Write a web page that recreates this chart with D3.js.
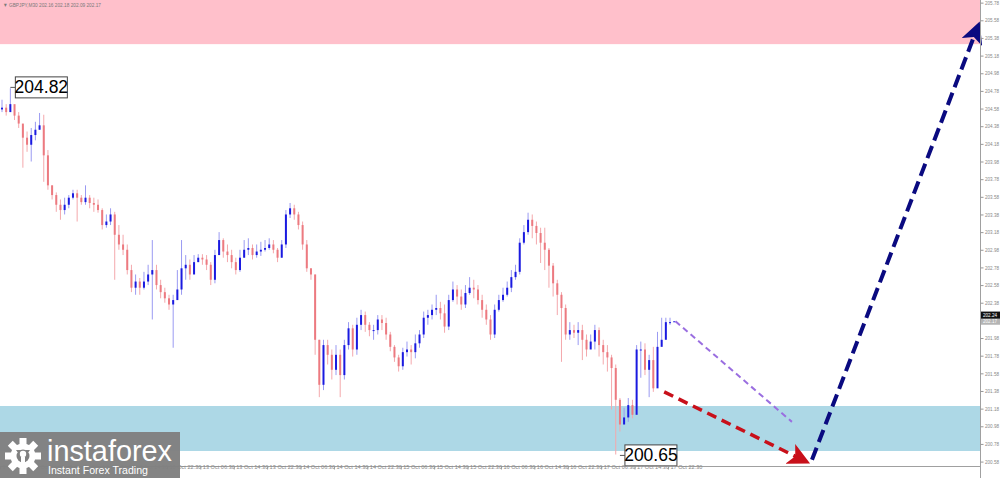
<!DOCTYPE html>
<html><head><meta charset="utf-8">
<script src="https://cdn.jsdelivr.net/npm/d3@7"></script>
<style>
html,body{margin:0;padding:0;background:#fff;overflow:hidden}
svg{display:block}
text{font-family:"Liberation Sans","DejaVu Sans",sans-serif}
</style></head>
<body>
<svg id="c" width="1000" height="478"></svg>
<script>
// ---- data (hourly candles, GBPJPY) ----
const symbolTitle = "GBPJPY,M30  202.16 202.18 202.09 202.17";
const firstOpen = 204.57;
const closes = [204.59,204.54,204.63,204.50,204.41,204.25,204.17,204.28,204.34,204.39,204.05,203.71,203.60,203.49,203.43,203.49,203.57,203.62,203.57,203.52,203.57,203.51,203.49,203.43,203.26,203.30,203.38,203.15,203.04,202.98,202.75,202.55,202.62,202.55,202.62,202.70,202.75,202.58,202.50,202.43,202.36,202.41,202.53,202.77,202.81,202.70,202.84,202.89,202.87,202.81,202.64,202.92,203.09,202.96,202.92,202.84,202.75,202.89,202.98,203.00,202.92,202.96,202.98,203.00,203.04,202.98,202.89,203.04,203.38,203.45,203.38,203.26,203.04,202.77,202.70,201.96,201.45,201.90,201.79,201.62,201.79,201.56,201.90,202.09,201.85,202.13,202.24,202.13,202.07,202.07,202.19,202.15,202.02,201.88,201.76,201.66,201.82,201.85,201.82,201.92,202.02,202.21,202.24,202.30,202.32,202.26,202.11,202.41,202.53,202.45,202.36,202.49,202.55,202.53,202.41,202.30,202.19,202.02,202.30,202.41,202.47,202.55,202.67,202.73,203.06,203.18,203.32,203.25,203.17,203.06,202.98,202.80,202.60,202.47,202.32,202.02,202.07,202.04,202.07,201.96,201.85,201.94,202.07,201.90,201.82,201.76,201.64,201.28,201.00,201.08,201.22,201.11,201.85,201.85,201.62,201.73,201.41,201.88,201.96,202.16,202.16,202.17];
const highs  = [204.68,204.63,204.81,204.59,204.54,204.39,204.32,204.36,204.43,204.53,204.51,204.11,203.71,203.63,203.55,203.57,203.60,203.66,203.66,203.60,203.71,203.60,203.57,203.55,203.45,203.38,203.45,203.41,203.26,203.15,203.04,202.81,202.70,202.66,202.73,202.81,203.09,202.81,202.64,202.55,202.47,202.47,202.75,203.09,202.92,202.87,202.92,202.93,202.93,202.92,202.84,202.98,203.18,203.11,203.04,202.98,202.89,202.98,203.09,203.11,203.04,203.04,203.07,203.09,203.11,203.09,203.00,203.09,203.43,203.51,203.49,203.41,203.30,203.09,202.77,202.70,201.96,201.96,201.96,201.85,201.90,201.85,201.96,202.16,202.13,202.21,202.30,202.28,202.16,202.13,202.24,202.24,202.21,202.05,201.90,201.79,201.87,201.94,201.90,202.02,202.07,202.28,202.30,202.36,202.47,202.39,202.36,202.47,202.62,202.58,202.53,202.58,202.67,202.64,202.58,202.47,202.36,202.24,202.36,202.47,202.55,202.62,202.75,202.81,203.11,203.26,203.40,203.38,203.30,203.23,203.23,203.00,202.83,202.64,202.50,202.36,202.16,202.13,202.16,202.13,202.02,202.02,202.13,202.10,201.96,201.90,201.79,201.68,201.30,201.19,201.30,201.28,201.90,201.94,201.92,201.79,201.88,202.05,202.21,202.21,202.21];
const lows   = [204.54,204.50,204.54,204.45,204.36,203.91,204.09,203.98,204.22,204.34,203.75,203.66,203.55,203.41,203.32,203.38,203.45,203.55,203.30,203.49,203.49,203.45,203.41,203.40,203.21,203.23,203.26,202.64,202.98,202.92,202.70,202.50,202.47,202.47,202.53,202.58,202.19,202.53,202.43,202.38,202.30,201.87,202.47,202.47,202.64,202.64,202.73,202.84,202.81,202.75,202.58,202.60,202.92,202.89,202.84,202.77,202.70,202.73,202.89,202.92,202.87,202.89,202.91,202.96,202.98,202.94,202.84,202.89,203.00,203.34,203.32,203.21,202.98,202.73,202.64,201.79,201.31,201.39,201.68,201.51,201.56,201.31,201.51,201.85,201.77,201.79,202.07,202.05,202.00,201.96,202.02,202.07,201.96,201.83,201.71,201.60,201.62,201.77,201.68,201.75,201.87,201.98,202.13,202.19,202.24,202.19,202.04,202.07,202.39,202.36,202.30,202.32,202.47,202.43,202.36,202.21,202.13,201.96,201.98,202.28,202.39,202.45,202.50,202.64,202.70,203.04,203.15,203.11,203.04,202.83,202.75,202.55,202.45,202.24,201.71,201.96,201.96,201.98,201.90,201.73,201.77,201.90,201.85,201.77,201.68,201.60,201.17,200.66,200.92,201.05,201.03,201.07,201.71,201.53,201.56,201.31,201.37,201.85,201.90,202.12,202.13];
const priceTicks = [205.78,205.58,205.38,205.18,204.98,204.78,204.58,204.38,204.18,203.98,203.78,203.58,203.38,203.18,202.98,202.78,202.58,202.38,202.18,201.98,201.78,201.58,201.38,201.18,200.98,200.78,200.58];
const timeLabels = ["9 Oct 2025","9 Oct 14:30","9 Oct 22:30","10 Oct 06:30","10 Oct 14:30","10 Oct 22:30","13 Oct 06:30","13 Oct 14:30","13 Oct 22:30","14 Oct 06:30","14 Oct 14:30","14 Oct 22:30","15 Oct 06:30","15 Oct 14:30","15 Oct 22:30","16 Oct 06:30","16 Oct 14:30","16 Oct 22:30","17 Oct 06:30","17 Oct 14:30","17 Oct 22:30"];
const sellZone = [205.31, 205.81];
const buyZone = [200.70, 201.21];
const highMark = {i: 2, price: 204.82, label: "204.82"};
const lowMark = {i: 148, price: 200.65, label: "200.65"};
const askPrice = 202.24, bidPrice = 202.17;
// forecast arrows: [barIndex, price]
const arrowPurple = [[161.3, 202.17], [189.2, 201.03]];
const arrowRed = [[158.6, 201.37], [192.6, 200.58]];
const arrowNavy = [[194.0, 200.60], [233.8, 205.52]];

// ---- scales ----
const svg = d3.select("#c");
const W = 1000, H = 478, plotR = 980, plotB = 466;
const x = d3.scaleLinear().domain([0, closes.length - 1]).range([2, 674.2]);
const y = d3.scaleLinear().domain([200.53, 205.81]).range([plotB, 0]);

// zones
svg.append("rect").attr("x",0).attr("width",plotR).attr("y",y(sellZone[1])).attr("height",y(sellZone[0])-y(sellZone[1])).attr("fill","#ffc0cb");
svg.append("rect").attr("x",0).attr("width",plotR).attr("y",y(buyZone[1])).attr("height",y(buyZone[0])-y(buyZone[1])).attr("fill","#add8e6");

// title
svg.append("text").attr("x",3).attr("y",7).attr("font-size",5.6).attr("fill","#7a7a7a")
  .attr("textLength",98).attr("lengthAdjust","spacingAndGlyphs").text("\u25BC " + symbolTitle);

// candles
const candles = closes.map((c,i)=>({i, o: i===0?firstOpen:closes[i-1], c, h: highs[i], l: lows[i]}));
const g = svg.append("g");
g.selectAll("line.w").data(candles).join("line")
  .attr("x1",d=>x(d.i)).attr("x2",d=>x(d.i))
  .attr("y1",d=>y(d.h)).attr("y2",d=>y(d.l))
  .attr("stroke",d=>d.c>=d.o?"#9a9af2":"#f4a8ac").attr("stroke-width",1);
g.selectAll("rect.b").data(candles).join("rect")
  .attr("x",d=>x(d.i)-1).attr("width",2)
  .attr("y",d=>y(Math.max(d.o,d.c)))
  .attr("height",d=>Math.max(1, Math.abs(y(d.o)-y(d.c))))
  .attr("fill",d=>d.c>=d.o?"#1a1ae0":"#ec7a80");

// high / low labels
function markLabel(m){
  const cx = x(m.i), cy = y(m.price);
  const bx = cx + 5, bh = 21, bw = 52;
  const by = cy - bh/2;
  svg.append("line").attr("x1",cx).attr("x2",bx).attr("y1",cy).attr("y2",cy).attr("stroke","#555").attr("stroke-width",1);
  svg.append("rect").attr("x",bx).attr("y",by).attr("width",bw).attr("height",bh).attr("fill","#fff").attr("stroke","#444").attr("stroke-width",1);
  svg.append("text").attr("x",bx+bw/2).attr("y",by+bh/2+6).attr("text-anchor","middle").attr("font-size",17.5).attr("fill","#000").text(m.label);
}
markLabel(highMark);
markLabel(lowMark);

// arrows
const defs = svg.append("defs");
function marker(id, color, size){
  defs.append("marker").attr("id",id).attr("viewBox","0 0 10 10").attr("refX",8).attr("refY",5)
    .attr("markerWidth",size).attr("markerHeight",size).attr("markerUnits","userSpaceOnUse").attr("orient","auto")
    .append("path").attr("d","M0,0 L10,5 L0,10 L2.5,5 Z").attr("fill",color);
}
marker("mRed","#c8101a",22);
marker("mNavy","#0a0a80",22);
function arrow(pts, color, w, dash, m){
  const l = svg.append("line").attr("x1",x(pts[0][0])).attr("y1",y(pts[0][1])).attr("x2",x(pts[1][0])).attr("y2",y(pts[1][1]))
    .attr("stroke",color).attr("stroke-width",w).attr("stroke-dasharray",dash);
  if(m) l.attr("marker-end","url(#"+m+")");
}
arrow(arrowPurple,"#9a6ee0",2,"6,4",null);
arrow(arrowRed,"#c8101a",3.5,"10,6","mRed");
arrow(arrowNavy,"#0a0a80",4,"13,6","mNavy");

// price axis
svg.append("line").attr("x1",plotR+0.5).attr("x2",plotR+0.5).attr("y1",0).attr("y2",H).attr("stroke","#a0a0a0");
const ya = svg.append("g").attr("transform",`translate(${plotR+0.5},0)`)
  .call(d3.axisRight(y).tickValues(priceTicks).tickFormat(d3.format(".2f")).tickSize(3).tickPadding(1.5));
ya.select(".domain").remove();
ya.selectAll("line").attr("stroke","#999");
ya.selectAll("text").attr("font-size",5.2).attr("fill","#888").attr("textLength",14).attr("lengthAdjust","spacingAndGlyphs");

// current price boxes
function priceBox(p, bg, fg){
  svg.append("rect").attr("x",plotR+1).attr("y",y(p)-3.5).attr("width",19).attr("height",7).attr("fill",bg);
  svg.append("text").attr("x",plotR+3).attr("y",y(p)+2).attr("font-size",5.2).attr("fill",fg)
    .attr("textLength",14).attr("lengthAdjust","spacingAndGlyphs").text(p.toFixed(2));
}
priceBox(bidPrice,"#b4b4b4","#fff");
priceBox(askPrice,"#111","#fff");

// time axis
svg.append("line").attr("x1",0).attr("x2",plotR).attr("y1",plotB+0.5).attr("y2",plotB+0.5).attr("stroke","#a0a0a0");
const tickIdx = timeLabels.map((t,k)=>k*8-0.5);
const xa = svg.append("g").attr("transform",`translate(0,${plotB+0.5})`)
  .call(d3.axisBottom(x).tickValues(tickIdx).tickFormat((d,k)=>timeLabels[k]).tickSize(3).tickPadding(1));
xa.select(".domain").remove();
xa.selectAll("line").attr("stroke","#999");
xa.selectAll("text").attr("font-size",5.6).attr("fill","#888").attr("text-anchor","start").attr("dx",2).attr("dy",-1.5);

// logo
const logo = svg.append("g");
logo.append("rect").attr("x",0).attr("y",432).attr("width",180).attr("height",46).attr("fill","#808080").attr("opacity",0.97);
const gear = logo.append("g").attr("transform","translate(23,456)");
const teeth = d3.range(8);
gear.selectAll("rect").data(teeth).join("rect").attr("x",-3.5).attr("y",-18).attr("width",7).attr("height",8).attr("fill","#fff")
  .attr("transform",d=>`rotate(${d*45})`);
gear.append("circle").attr("r",12.5).attr("fill","#fff");
gear.append("circle").attr("r",6.5).attr("fill","#808080");
gear.append("path").attr("d","M-7,-6 L-2,1 L-2,19 L2,19 L2,1 L7,-6 L3,-6 L0,-2 L-3,-6 Z").attr("fill","#808080");
gear.append("circle").attr("cy",-2).attr("r",3.2).attr("fill","#fff");
gear.append("rect").attr("x",-2).attr("y",1).attr("width",4).attr("height",17).attr("fill","#fff");
logo.append("text").attr("x",47).attr("y",461).attr("font-size",30).attr("font-family","Lato, 'Open Sans', sans-serif").attr("font-weight",300).attr("fill","#fff")
  .attr("textLength",125).attr("lengthAdjust","spacingAndGlyphs").text("instaforex");
logo.append("text").attr("x",48).attr("y",474).attr("font-size",11).attr("font-family","'Open Sans', sans-serif").attr("fill","#fff")
  .attr("textLength",100).attr("lengthAdjust","spacingAndGlyphs").text("Instant Forex Trading");
</script>
</body></html>
